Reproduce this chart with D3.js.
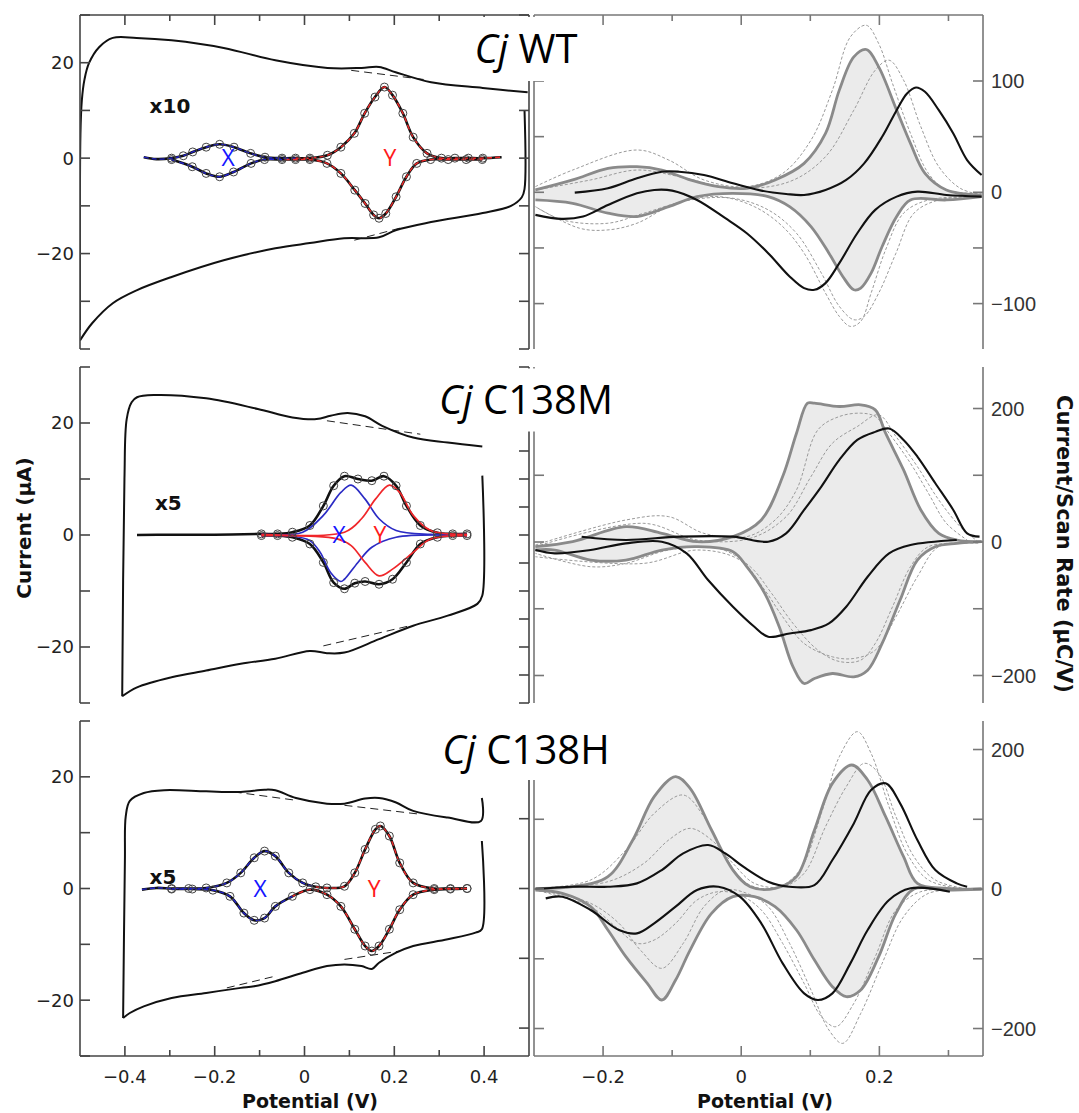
<!DOCTYPE html>
<html>
<head>
<meta charset="utf-8">
<script src="https://cdn.jsdelivr.net/npm/d3@7"></script>
<style>
  body { margin: 0; background: #fff; }
  svg { display: block; }
</style>
</head>
<body>
<script>
// ---------- left column: raw voltammograms (Potential V, Current µA) ----------
const wtCvUp = [[-0.500,-36],[-0.499,5],[-0.496,12],[-0.490,16.5],[-0.480,19.9],[-0.457,23.3],[-0.427,25.2],[-0.374,25.2],[-0.296,24.7],[-0.180,23.1],[-0.065,20.5],[0.051,18.9],[0.127,18.9],[0.166,19.1],[0.203,18.0],[0.282,15.9],[0.397,14.7],[0.497,13.8]]
const wtCvDn = [[0.490,10.1],[0.490,-6.5],[0.484,-8.2],[0.460,-10.0],[0.397,-11.5],[0.282,-13.4],[0.203,-15.1],[0.166,-16.6],[0.088,-16.8],[0.012,-17.8],[-0.065,-18.9],[-0.180,-21.4],[-0.296,-24.9],[-0.374,-27.7],[-0.427,-30.4],[-0.473,-34.6],[-0.500,-38.2]]
const wtBase = [[[0.104,18.4],[0.273,16.4]], [[0.111,-17.2],[0.219,-14.5]]]
const wtInsetUp = [[-0.358,0.2],[-0.330,-0.2],[-0.296,0],[-0.270,0.5],[-0.249,1.3],[-0.219,2.3],[-0.189,2.9],[-0.157,2.3],[-0.120,1.0],[-0.088,0.2],[-0.050,0],[-0.020,0],[0.012,0],[0.051,0.6],[0.081,2.3],[0.111,5.2],[0.134,9.4],[0.157,12.8],[0.178,14.9],[0.196,13.2],[0.219,9.4],[0.242,4.4],[0.273,1.0],[0.305,0],[0.335,0],[0.365,0],[0.397,0],[0.439,0.2]]
const wtInsetDn = [[0.396,-0.3],[0.360,-0.3],[0.320,-0.3],[0.281,-0.3],[0.250,-1.1],[0.227,-3.9],[0.204,-8.1],[0.181,-11.6],[0.166,-12.6],[0.154,-11.9],[0.135,-9.5],[0.112,-6.7],[0.081,-3.2],[0.050,-1.1],[0.012,-0.3],[-0.020,-0.3],[-0.050,-0.3],[-0.089,-0.3],[-0.119,-1.1],[-0.158,-2.9],[-0.189,-3.9],[-0.219,-3.2],[-0.250,-1.8],[-0.296,-0.3]]

const mCvUp = [[-0.406,-28.8],[-0.401,10],[-0.396,20.7],[-0.385,23.7],[-0.373,24.6],[-0.335,25],[-0.219,24.4],[-0.104,22.5],[-0.027,21],[0.027,20.7],[0.058,21.3],[0.096,21.8],[0.135,21.2],[0.173,19.5],[0.242,17.4],[0.319,16.5],[0.396,15.8]]
const mCvDn = [[0.396,10.6],[0.396,-10.8],[0.385,-12.3],[0.319,-14.4],[0.242,-16.2],[0.166,-18.6],[0.089,-21],[0.050,-21.1],[0.012,-20.7],[-0.065,-22.1],[-0.142,-23],[-0.219,-24.2],[-0.296,-25.4],[-0.373,-27.2],[-0.406,-28.8]]
const mBase = [[[0.050,20.4],[0.258,18.0]], [[0.042,-19.8],[0.235,-16.2]]]
const mInsetUp = [[-0.373,0],[-0.300,0.05],[-0.200,0.05],[-0.096,0.2],[-0.060,0.2],[-0.027,0.5],[0.012,1.7],[0.042,5.2],[0.065,8.8],[0.089,10.5],[0.119,10.0],[0.150,9.7],[0.177,10.5],[0.204,8.8],[0.227,5.2],[0.258,1.7],[0.296,0.4],[0.330,0.2],[0.362,0.2]]
const mInsetDn = [[0.362,-0.1],[0.330,-0.1],[0.296,-0.4],[0.258,-1.6],[0.227,-4.9],[0.196,-7.9],[0.166,-8.8],[0.135,-8.3],[0.112,-8.6],[0.089,-9.6],[0.065,-8.5],[0.042,-4.9],[0.012,-1.6],[-0.027,-0.4],[-0.060,-0.1],[-0.096,-0.1]]
const mFitXUp = [[-0.096,0.1],[-0.004,0.5],[0.042,3.5],[0.081,7.6],[0.104,8.9],[0.135,6.4],[0.166,2.9],[0.204,0.8],[0.281,0.1],[0.362,0.1]]
const mFitXDn = [[0.362,-0.1],[0.204,-0.4],[0.150,-2.2],[0.119,-4.9],[0.089,-7.9],[0.081,-8.3],[0.058,-6.7],[0.035,-3.1],[0.012,-1.0],[-0.027,-0.2],[-0.096,-0.1]]
const mFitYUp = [[-0.096,0.1],[0.089,0.5],[0.127,2.9],[0.158,6.4],[0.189,8.9],[0.212,7.6],[0.242,3.5],[0.281,0.8],[0.362,0.1]]
const mFitYDn = [[0.362,-0.1],[0.281,-0.7],[0.242,-3.1],[0.196,-6.1],[0.166,-7.3],[0.135,-4.9],[0.104,-1.9],[0.073,-0.7],[0.012,-0.2],[-0.096,-0.1]]

const hCvUp = [[-0.404,-23.2],[-0.400,5],[-0.398,13],[-0.389,15.7],[-0.358,17.1],[-0.312,17.6],[-0.219,17.4],[-0.142,17.3],[-0.089,17.7],[-0.065,17.6],[-0.019,16.2],[0.050,15.2],[0.089,15.2],[0.135,16.1],[0.166,16.2],[0.204,15.4],[0.242,13.9],[0.319,12.7],[0.393,12.1],[0.395,16.2]]
const hCvDn = [[0.395,8.5],[0.395,-7.3],[0.381,-7.9],[0.319,-9.1],[0.242,-10.3],[0.204,-11.5],[0.166,-13.3],[0.150,-14.4],[0.127,-13.9],[0.089,-13.6],[0.050,-13.9],[-0.004,-15.1],[-0.065,-16.6],[-0.112,-17.5],[-0.142,-17.8],[-0.219,-18.7],[-0.296,-19.6],[-0.358,-21.1],[-0.389,-22.3],[-0.404,-23.2]]
const hBase = [[[-0.158,17.3],[-0.019,15.8]], [[0.089,14.9],[0.258,13.3]], [[-0.173,-17.8],[-0.065,-15.7]], [[0.089,-12.7],[0.212,-11.2]]]
const hInsetUp = [[-0.362,-0.2],[-0.330,0.1],[-0.296,0],[-0.258,0],[-0.219,0.1],[-0.173,1],[-0.142,2.8],[-0.112,5.5],[-0.089,6.7],[-0.065,5.8],[-0.035,2.8],[-0.004,1],[0.025,0.3],[0.050,0.1],[0.089,0.4],[0.112,2.8],[0.135,7],[0.158,10.6],[0.169,11.2],[0.189,9.4],[0.212,4.6],[0.242,1],[0.289,0],[0.325,0],[0.362,0]]
const hInsetDn = [[0.362,0],[0.325,-0.1],[0.289,-0.2],[0.242,-1.1],[0.212,-3.8],[0.189,-7.3],[0.166,-10.3],[0.150,-11.2],[0.135,-10.3],[0.112,-7.3],[0.081,-3.2],[0.050,-1.1],[0.012,-0.2],[-0.027,-1.4],[-0.065,-3.2],[-0.089,-5.3],[-0.112,-5.7],[-0.135,-4.4],[-0.166,-1.4],[-0.204,-0.3],[-0.250,-0.1],[-0.296,-0.1]]

// ---------- right column: current / scan rate (µC/V) ----------
const wtBlackUp = [[-0.241,-0.3],[-0.193,3.6],[-0.151,12.6],[-0.115,18.5],[-0.090,18.5],[-0.054,15.5],[-0.012,8.1],[0.029,1.5],[0.065,-1.5],[0.091,-2.4],[0.122,2.1],[0.152,11.1],[0.178,26.0],[0.204,49.9],[0.225,73.8],[0.240,88.8],[0.253,94.2],[0.266,90.3],[0.286,73.8],[0.307,52.9],[0.327,29.0],[0.348,15.5]]
const wtBlackDn = [[0.348,-3.9],[0.297,-2.4],[0.255,0.6],[0.225,-3.9],[0.194,-15.8],[0.168,-36.8],[0.142,-63.7],[0.122,-81.6],[0.106,-87.6],[0.091,-86.1],[0.070,-75.6],[0.039,-54.7],[0.008,-36.8],[-0.023,-23.3],[-0.064,-6.9],[-0.100,1.5],[-0.126,2.1],[-0.151,-0.9],[-0.193,-11.4],[-0.229,-21.8],[-0.260,-23.9],[-0.298,-20.3]]
const wtGrayUp = [[-0.298,2.1],[-0.244,11.1],[-0.193,21.5],[-0.151,23.0],[-0.115,20.0],[-0.074,11.1],[-0.033,5.1],[0.008,3.6],[0.049,11.1],[0.091,26.0],[0.122,52.9],[0.142,91.8],[0.163,121.7],[0.181,128.3],[0.199,112.7],[0.225,73.8],[0.245,43.9],[0.266,17.0],[0.297,2.1],[0.348,-2.4]]
const wtGrayDn = [[0.348,-3.9],[0.297,-6.9],[0.245,-6.9],[0.225,-21.8],[0.204,-48.7],[0.188,-72.6],[0.173,-86.1],[0.163,-87.6],[0.147,-75.6],[0.127,-54.7],[0.101,-30.8],[0.070,-12.9],[0.039,-3.9],[-0.012,-0.9],[-0.064,-3.9],[-0.105,-12.9],[-0.151,-21.8],[-0.193,-18.8],[-0.244,-9.9],[-0.298,-6.9]]
const wtDashAUp = [[-0.298,5.1],[-0.244,20.0],[-0.151,38.0],[-0.105,29.0],[-0.054,11.1],[0.008,5.1],[0.060,17.0],[0.101,46.9],[0.132,91.8],[0.158,139.6],[0.181,150.1],[0.199,133.6],[0.219,97.8],[0.245,52.9],[0.271,17.0],[0.297,2.1],[0.348,-0.9]]
const wtDashADn = [[0.348,-3.9],[0.271,-6.9],[0.235,-18.8],[0.209,-51.7],[0.188,-90.6],[0.173,-116.0],[0.158,-120.5],[0.142,-111.5],[0.122,-90.6],[0.091,-54.7],[0.060,-30.8],[0.019,-12.9],[-0.033,-3.9],[-0.095,-9.9],[-0.151,-27.8],[-0.193,-33.8],[-0.234,-32.3],[-0.298,-12.9]]
const wtDashBUp = [[-0.298,2.1],[-0.218,11.1],[-0.151,20.0],[-0.090,14.1],[-0.012,3.6],[0.070,9.6],[0.122,32.0],[0.163,73.8],[0.194,109.7],[0.214,118.7],[0.235,100.8],[0.260,58.9],[0.286,23.0],[0.317,3.6],[0.348,-2.4]]
const wtDashBDn = [[0.348,-3.9],[0.286,-6.9],[0.250,-18.8],[0.224,-54.7],[0.199,-90.6],[0.178,-111.5],[0.163,-114.5],[0.142,-102.5],[0.116,-72.6],[0.080,-36.8],[0.039,-15.8],[-0.012,-5.4],[-0.074,-6.9],[-0.141,-18.8],[-0.193,-27.8],[-0.259,-24.8],[-0.298,-12.9]]

const mBlackUp = [[-0.231,8],[-0.167,3],[-0.090,8],[-0.012,8],[0.039,0.5],[0.065,13],[0.091,48],[0.116,83],[0.142,123],[0.168,153],[0.194,165],[0.214,170],[0.235,153],[0.255,128],[0.281,88],[0.307,48],[0.327,13],[0.345,8]]
const mBlackDn = [[0.312,3],[0.245,-4.5],[0.214,-17],[0.183,-52],[0.152,-97],[0.127,-122],[0.101,-132],[0.070,-137],[0.039,-142],[0.019,-127],[-0.012,-97],[-0.048,-57],[-0.079,-17],[-0.115,0.5],[-0.167,-2],[-0.218,-12],[-0.270,-17],[-0.298,-12]]
const mGrayUp = [[-0.298,-7],[-0.244,0.5],[-0.167,23],[-0.115,13],[-0.064,0.5],[-0.012,8],[0.029,33],[0.060,98],[0.080,163],[0.096,208],[0.106,208],[0.142,203],[0.173,205.5],[0.194,198],[0.209,163],[0.235,108],[0.260,48],[0.286,13],[0.312,3],[0.348,0.5]]
const mGrayDn = [[0.348,0.5],[0.312,-2],[0.281,-7],[0.255,-27],[0.230,-87],[0.204,-152],[0.183,-192],[0.163,-202],[0.132,-197],[0.106,-204.5],[0.091,-212],[0.075,-187],[0.055,-127],[0.034,-77],[0.008,-37],[-0.012,-14.5],[-0.064,-7],[-0.115,-12],[-0.167,-27],[-0.218,-27],[-0.270,-12],[-0.298,-12]]
const mDashAUp = [[-0.298,-4.5],[-0.167,33],[-0.105,38],[-0.054,13],[0.008,8],[0.049,33],[0.080,78],[0.111,168],[0.142,188],[0.173,193],[0.194,188],[0.214,163],[0.245,118],[0.271,73],[0.297,28],[0.327,3]]
const mDashADn = [[0.327,-2],[0.271,-7],[0.245,-37],[0.219,-97],[0.194,-152],[0.173,-177],[0.142,-179],[0.111,-162],[0.075,-122],[0.044,-77],[0.013,-37],[-0.033,-9.5],[-0.105,-12],[-0.167,-32],[-0.218,-37],[-0.298,-17]]
const mDashBUp = [[-0.298,-7],[-0.141,28],[-0.064,3],[0.013,5.5],[0.065,38],[0.101,98],[0.132,148],[0.168,173],[0.199,190.5],[0.224,158],[0.255,113],[0.286,63],[0.317,23],[0.343,0.5]]
const mDashBDn = [[0.343,-2],[0.286,-7],[0.255,-52],[0.224,-112],[0.194,-162],[0.163,-174.5],[0.132,-172],[0.091,-152],[0.060,-112],[0.034,-72],[-0.002,-27],[-0.064,-12],[-0.141,-32],[-0.298,-22]]

const hBlackUp = [[-0.298,0],[-0.244,3.3],[-0.193,3.3],[-0.151,8.1],[-0.115,27.2],[-0.084,51.1],[-0.048,63.1],[-0.023,51.1],[0.003,32],[0.039,10.5],[0.070,3.3],[0.106,5.7],[0.132,41.6],[0.163,94.1],[0.188,141.9],[0.209,151.5],[0.230,122.8],[0.255,70.3],[0.281,27.2],[0.312,8.1],[0.327,3.3]]
const hBlackDn = [[0.302,-3.8],[0.245,1],[0.214,-15.8],[0.183,-58.8],[0.158,-106.6],[0.132,-149.6],[0.111,-159.1],[0.091,-149.6],[0.060,-106.6],[0.029,-49.2],[-0.002,-11],[-0.033,3.3],[-0.064,-1.4],[-0.095,-25.3],[-0.126,-49.2],[-0.151,-63.6],[-0.177,-58.8],[-0.218,-30.1],[-0.259,-11],[-0.283,-13.4]]
const hGrayUp = [[-0.298,1],[-0.244,3.3],[-0.193,17.7],[-0.157,70.3],[-0.126,132.4],[-0.095,161.1],[-0.074,144.3],[-0.043,84.6],[-0.012,27.2],[0.013,3.3],[0.049,1],[0.080,17.7],[0.106,84.6],[0.132,151.5],[0.160,177.8],[0.183,156.3],[0.209,103.7],[0.235,46.4],[0.255,8.1],[0.297,1],[0.348,0]]
const hGrayDn = [[0.348,0],[0.297,-1.4],[0.250,0],[0.224,-34.9],[0.199,-97],[0.173,-144.8],[0.152,-154.4],[0.132,-140],[0.106,-101.8],[0.080,-58.8],[0.049,-25.3],[0.019,-11],[-0.012,-11],[-0.043,-34.9],[-0.074,-87.5],[-0.095,-130.5],[-0.115,-159.1],[-0.136,-135.2],[-0.167,-97],[-0.193,-58.8],[-0.218,-25.3],[-0.259,-6.2],[-0.298,-1.4]]
const hDashAUp = [[-0.298,1],[-0.218,12.9],[-0.167,55.9],[-0.126,108.5],[-0.084,134.8],[-0.054,103.7],[-0.023,46.4],[0.008,8.1],[0.049,1],[0.085,27.2],[0.116,108.5],[0.142,189.7],[0.168,225.6],[0.188,194.5],[0.214,118],[0.240,51.1],[0.271,12.9],[0.322,0]]
const hDashADn = [[0.322,-1.4],[0.271,-6.2],[0.235,-39.7],[0.204,-106.6],[0.173,-178.3],[0.147,-221.3],[0.127,-202.2],[0.101,-144.8],[0.070,-77.9],[0.039,-25.3],[0.008,-6.2],[-0.023,-1.4],[-0.054,-25.3],[-0.084,-77.9],[-0.115,-113.7],[-0.146,-87.5],[-0.177,-49.2],[-0.218,-20.5],[-0.270,-6.2],[-0.298,-1.4]]
const hDashBUp = [[-0.298,0],[-0.193,10.5],[-0.141,36.8],[-0.105,70.3],[-0.074,87],[-0.043,70.3],[-0.012,36.8],[0.019,8.1],[0.060,3.3],[0.091,22.5],[0.122,89.4],[0.152,146.7],[0.178,180.2],[0.199,165.8],[0.224,103.7],[0.250,46.4],[0.281,12.9],[0.327,0]]
const hDashBDn = [[0.327,-1.4],[0.260,-3.8],[0.224,-30.1],[0.194,-97],[0.163,-163.9],[0.137,-197.4],[0.116,-183],[0.091,-135.2],[0.060,-77.9],[0.029,-30.1],[-0.002,-8.6],[-0.033,-3.8],[-0.064,-15.8],[-0.095,-49.2],[-0.126,-73.1],[-0.151,-77.9],[-0.182,-54],[-0.218,-25.3],[-0.270,-8.6],[-0.298,-1.4]]

// ---------- ticks and labels ----------
const xTicksLeft = [-0.4,-0.3,-0.2,-0.1,0,0.1,0.2,0.3,0.4]
const xLabelsLeft = [-0.4,-0.2,0,0.2,0.4]
const xTicksRight = [-0.2,-0.1,0,0.1,0.2,0.3]
const xLabelsRight = [-0.2,0,0.2]
const yLabelsLeft = [-20,0,20]
const wtTicksLeft = [-40,-30,-20,-10,0,10,20,30]
const mTicksLeft = [-30,-20,-10,0,10,20,30]
const mTicksLeftInner = [-30,-25,-20,-15,-10,-5,0,5,10,15,20,25,30]
const hTicksLeftInner = [-25,-12.5,0,12.5,25]
const wtTicksRight = [-100,-50,0,50,100]
const wtLabelsRight = [-100,0,100]
const mhTicksRight = [-200,-100,0,100,200]
const mhLabelsRight = [-200,0,200]
const titles = ['WT', 'C138M', 'C138H']
const scaleTags = ['x10', 'x5', 'x5']

// ---------- layout ----------
const W = 1079, H = 1113
const svg = d3.select('body').append('svg').attr('width', W).attr('height', H)

const xL = d3.scaleLinear().domain([-0.5, 0.5]).range([80, 529])
const xR = d3.scaleLinear().domain([-0.3, 0.35]).range([534, 983])
const fmt = d3.format('')

const rows = [
  { top: 15, bottom: 349, yL: [-40, 30], yR: [-140.8, 159.3],
    cv: [wtCvUp, wtCvDn], base: wtBase, inset: [wtInsetUp, wtInsetDn], split: -0.03,
    circ: [-0.30, 0.40], ticksL: wtTicksLeft, ticksLI: wtTicksLeft,
    right: { fillUp: wtGrayUp, fillDn: wtGrayDn, dashed: [wtDashAUp, wtDashADn, wtDashBUp, wtDashBDn], black: [wtBlackUp, wtBlackDn] },
    ticksR: wtTicksRight, labelsR: wtLabelsRight,
    tag: [-0.345, 9.5], xLab: [-0.17, 0], yLab: [0.19, 0], box: [455, 17, 145, 64], titleY: 63 },
  { top: 367, bottom: 703, yL: [-30, 30], yR: [-241.2, 262.2],
    cv: [mCvUp, mCvDn], base: mBase, inset: [mInsetUp, mInsetDn],
    fits: [[mFitXUp, '#2b2bc4'], [mFitXDn, '#2b2bc4'], [mFitYUp, '#f0262a'], [mFitYDn, '#f0262a']],
    circ: [-0.10, 0.37], ticksL: mTicksLeft, ticksLI: mTicksLeftInner,
    right: { fillUp: mGrayUp, fillDn: mGrayDn, dashed: [mDashAUp, mDashADn, mDashBUp, mDashBDn], black: [mBlackUp, mBlackDn] },
    ticksR: mhTicksRight, labelsR: mhLabelsRight,
    tag: [-0.333, 4.5], xLab: [0.077, 0], yLab: [0.168, 0], box: [430, 368.5, 190, 63], titleY: 414 },
  { top: 721, bottom: 1056, yL: [-30, 30], yR: [-239.4, 240.9],
    cv: [hCvUp, hCvDn], base: hBase, inset: [hInsetUp, hInsetDn], split: 0.01,
    circ: [-0.30, 0.37], ticksL: mTicksLeft, ticksLI: hTicksLeftInner,
    right: { fillUp: hGrayUp, fillDn: hGrayDn, dashed: [hDashAUp, hDashADn, hDashBUp, hDashBDn], black: [hBlackUp, hBlackDn] },
    ticksR: mhTicksRight, labelsR: mhLabelsRight,
    tag: [-0.345, 0.8], xLab: [-0.099, 0], yLab: [0.155, 0], box: [430, 719, 190, 61], titleY: 764 }
]

const lineGen = (x, y) => d3.line()
  .x(d => x(d[0]))
  .y(d => y(d[1]))
  .curve(d3.curveCatmullRom.alpha(0.5))

// split an ordered list of points where it crosses xs, keeping the joint point in both parts
const splitAt = (pts, xs) => {
  const side = p => p[0] <= xs
  let i = pts.findIndex(p => side(p) !== side(pts[0]))
  if (i < 0) return [[pts, side(pts[0])]]
  return [[pts.slice(0, i + 1), side(pts[0])], [pts.slice(i), !side(pts[0])]]
}

rows.forEach((r, ri) => {
  const yL = d3.scaleLinear().domain(r.yL).range([r.bottom, r.top])
  const yR = d3.scaleLinear().domain(r.yR).range([r.bottom, r.top])
  const lineL = lineGen(xL, yL)
  const lineR = lineGen(xR, yR)

  // clip paths
  const defs = svg.append('defs')
  defs.append('clipPath').attr('id', 'clipL' + ri).append('rect')
    .attr('x', xL.range()[0]).attr('y', r.top).attr('width', xL.range()[1] - xL.range()[0]).attr('height', r.bottom - r.top)
  defs.append('clipPath').attr('id', 'clipR' + ri).append('rect')
    .attr('x', xR.range()[0]).attr('y', r.top).attr('width', xR.range()[1] - xR.range()[0]).attr('height', r.bottom - r.top)

  // ----- left panel -----
  const gl = svg.append('g').attr('clip-path', `url(#clipL${ri})`)

  r.base.forEach(b => gl.append('path')
    .attr('d', lineL(b)).attr('fill', 'none')
    .attr('stroke', '#222').attr('stroke-width', 1).attr('stroke-dasharray', '8,5'))

  r.cv.forEach(c => gl.append('path')
    .attr('d', lineL(c)).attr('fill', 'none')
    .attr('stroke', '#111').attr('stroke-width', 2))

  r.inset.forEach(c => gl.append('path')
    .attr('d', lineL(c)).attr('fill', 'none')
    .attr('stroke', '#111').attr('stroke-width', 2.6))

  if (r.fits) {
    r.fits.forEach(([pts, col]) => gl.append('path')
      .attr('d', lineL(pts)).attr('fill', 'none')
      .attr('stroke', col).attr('stroke-width', 1.7))
  } else {
    r.inset.forEach(c => splitAt(c, r.split).forEach(([seg, isX]) => gl.append('path')
      .attr('d', lineL(seg)).attr('fill', 'none')
      .attr('stroke', isX ? '#2323c8' : '#f02a2a').attr('stroke-width', 1.4)
      .attr('stroke-dasharray', '5,3')))
  }

  const circPts = r.inset.flat().filter(p => p[0] >= r.circ[0] && p[0] <= r.circ[1])
  gl.selectAll(null).data(circPts).join('circle')
    .attr('cx', d => xL(d[0])).attr('cy', d => yL(d[1])).attr('r', 4)
    .attr('fill', 'none').attr('stroke', '#444').attr('stroke-width', 1)

  gl.append('text').text(scaleTags[ri])
    .attr('x', xL(r.tag[0])).attr('y', yL(r.tag[1]))
    .attr('font-family', 'DejaVu Sans').attr('font-weight', 'bold').attr('font-size', 20).attr('fill', '#111')
  gl.append('text').text('X')
    .attr('x', xL(r.xLab[0])).attr('y', yL(r.xLab[1])).attr('dy', '0.36em').attr('text-anchor', 'middle')
    .attr('font-family', 'Open Sans').attr('font-size', 23).attr('fill', '#1515ff')
  gl.append('text').text('Y')
    .attr('x', xL(r.yLab[0])).attr('y', yL(r.yLab[1])).attr('dy', '0.36em').attr('text-anchor', 'middle')
    .attr('font-family', 'Open Sans').attr('font-size', 23).attr('fill', '#ff1a1a')

  // ----- right panel -----
  const gr = svg.append('g').attr('clip-path', `url(#clipR${ri})`)
  gr.append('path')
    .attr('d', lineR(r.right.fillUp.concat(r.right.fillDn)) + 'Z')
    .attr('fill', '#ebebeb').attr('stroke', 'none')
  r.right.dashed.forEach(c => gr.append('path')
    .attr('d', lineR(c)).attr('fill', 'none')
    .attr('stroke', '#9a9a9a').attr('stroke-width', 1).attr('stroke-dasharray', '3,2'))
  ;[r.right.fillUp, r.right.fillDn].forEach(c => gr.append('path')
    .attr('d', lineR(c)).attr('fill', 'none')
    .attr('stroke', '#8a8a8a').attr('stroke-width', 2.8))
  r.right.black.forEach(c => gr.append('path')
    .attr('d', lineR(c)).attr('fill', 'none')
    .attr('stroke', '#111').attr('stroke-width', 2.1))

  // ----- axes (inward ticks on every side) -----
  const ax = svg.append('g')
  const vline = (x, col) => ax.append('line')
    .attr('x1', x).attr('x2', x).attr('y1', r.top).attr('y2', r.bottom)
    .attr('stroke', col).attr('stroke-width', 1.6)
  vline(xL.range()[0], '#444')
  vline(xL.range()[1], '#444')
  vline(xR.range()[0], '#777')
  vline(xR.range()[1], '#777')

  const yTick = (x, y, v, dir, major, col) => ax.append('line')
    .attr('x1', x).attr('x2', x + dir * (major ? 10 : 6))
    .attr('y1', y(v)).attr('y2', y(v))
    .attr('stroke', col).attr('stroke-width', 1.6)

  r.ticksL.forEach(v => yTick(xL.range()[0], yL, v, 1, true, '#444'))
  r.ticksLI.forEach(v => yTick(xL.range()[1], yL, v, -1, true, '#444'))
  r.ticksR.forEach(v => yTick(xR.range()[0], yR, v, 1, true, '#777'))
  r.ticksR.forEach(v => yTick(xR.range()[1], yR, v, -1, true, '#777'))

  ax.selectAll(null).data(yLabelsLeft).join('text')
    .attr('x', xL.range()[0] - 6).attr('y', d => yL(d)).attr('dy', '0.36em')
    .attr('text-anchor', 'end').attr('font-family', 'DejaVu Sans').attr('font-size', 18).attr('fill', '#222')
    .text(fmt)
  ax.selectAll(null).data(r.labelsR).join('text')
    .attr('x', xR.range()[1] + 8).attr('y', d => yR(d)).attr('dy', '0.36em')
    .attr('text-anchor', 'start').attr('font-family', 'Liberation Sans, Arial').attr('font-size', 20).attr('fill', '#333')
    .text(fmt)

  // horizontal frame on first and last row
  const hframe = (yPos, dir) => {
    ;[[xL, xTicksLeft, xLabelsLeft, '#444'], [xR, xTicksRight, xLabelsRight, '#777']].forEach(([x, ticks, labs, col]) => {
      ax.append('line').attr('x1', x.range()[0]).attr('x2', x.range()[1]).attr('y1', yPos).attr('y2', yPos)
        .attr('stroke', col).attr('stroke-width', 1.6)
      ticks.forEach(v => ax.append('line')
        .attr('x1', x(v)).attr('x2', x(v))
        .attr('y1', yPos).attr('y2', yPos + dir * (labs.some(l => Math.abs(l - v) < 1e-9) ? 10 : 6))
        .attr('stroke', col).attr('stroke-width', 1.6))
    })
  }
  if (ri === 0) hframe(r.top, 1)
  if (ri === 2) {
    hframe(r.bottom, -1)
    ;[[xL, xLabelsLeft], [xR, xLabelsRight]].forEach(([x, labs]) => {
      ax.selectAll(null).data(labs).join('text')
        .attr('x', d => x(d)).attr('y', r.bottom + 27)
        .attr('text-anchor', 'middle').attr('font-family', 'DejaVu Sans').attr('font-size', 18).attr('fill', '#222')
        .text(fmt)
    })
  }

  // ----- title on a white patch -----
  svg.append('rect')
    .attr('x', r.box[0]).attr('y', r.box[1]).attr('width', r.box[2]).attr('height', r.box[3])
    .attr('fill', '#fff')
  const t = svg.append('text')
    .attr('x', 526).attr('y', r.titleY).attr('text-anchor', 'middle')
    .attr('font-family', 'Open Sans').attr('font-size', 40).attr('fill', '#000')
  t.append('tspan').attr('font-style', 'italic').text('Cj')
  t.append('tspan').text(' ' + titles[ri])
})

// axis titles
svg.append('text').text('Current (µA)')
  .attr('transform', 'translate(31,528) rotate(-90)').attr('text-anchor', 'middle')
  .attr('font-family', 'DejaVu Sans').attr('font-weight', 'bold').attr('font-size', 20).attr('fill', '#111')
svg.append('text').text('Current/Scan Rate (µC/V)')
  .attr('transform', 'translate(1057,544) rotate(90)').attr('text-anchor', 'middle')
  .attr('font-family', 'DejaVu Sans').attr('font-weight', 'bold').attr('font-size', 21).attr('fill', '#111')
svg.append('text').text('Potential (V)')
  .attr('x', 310).attr('y', 1108).attr('text-anchor', 'middle')
  .attr('font-family', 'DejaVu Sans').attr('font-weight', 'bold').attr('font-size', 19).attr('fill', '#111')
svg.append('text').text('Potential (V)')
  .attr('x', 765).attr('y', 1108).attr('text-anchor', 'middle')
  .attr('font-family', 'DejaVu Sans').attr('font-weight', 'bold').attr('font-size', 19).attr('fill', '#111')
</script>
</body>
</html>
